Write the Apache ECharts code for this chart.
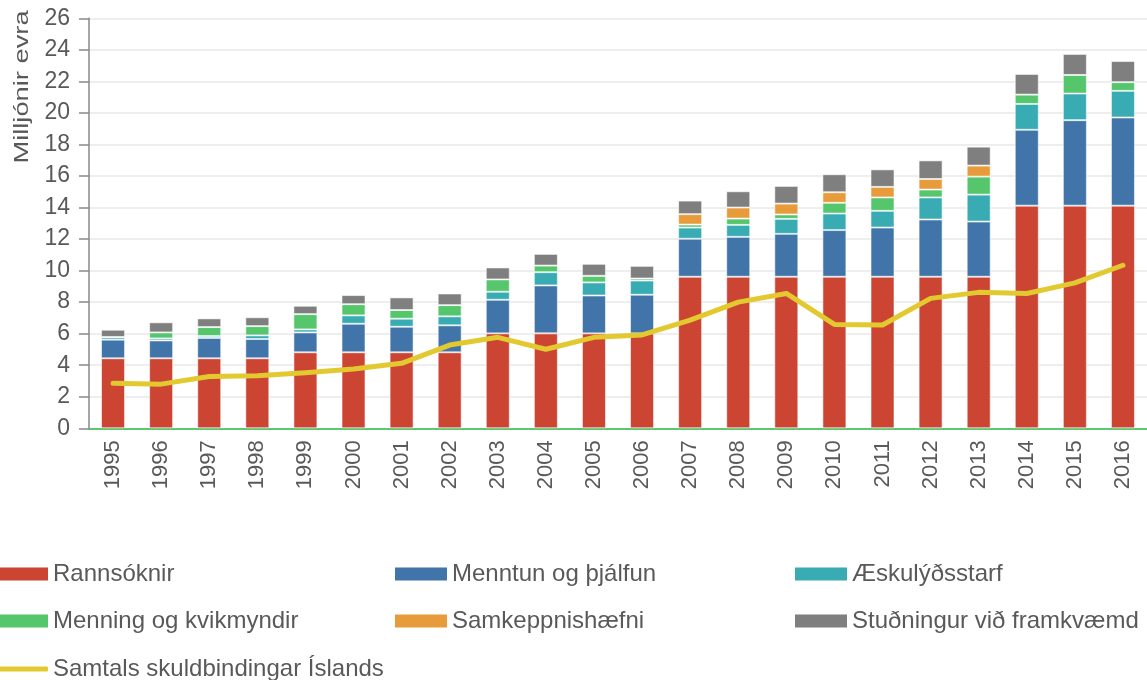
<!DOCTYPE html>
<html>
<head>
<meta charset="utf-8">
<script src="https://cdn.jsdelivr.net/npm/echarts@6/dist/echarts.min.js"></script>
<style>
html,body{margin:0;padding:0;background:#fff;}
#chart{width:1147px;height:680px;}
</style>
</head>
<body>
<div id="chart"></div>
<script>
const years = ['1995','1996','1997','1998','1999','2000','2001','2002','2003','2004','2005','2006','2007','2008','2009','2010','2011','2012','2013','2014','2015','2016'];
const yTicks = [0,2,4,6,8,10,12,14,16,18,20,22,24,26];

const rannsoknir = [4.44,4.44,4.44,4.44,4.82,4.82,4.82,4.82,6.02,6.02,6.02,6.02,9.61,9.61,9.61,9.61,9.61,9.61,9.61,14.12,14.12,14.12];
const menntun = [1.18,1.13,1.29,1.22,1.26,1.81,1.62,1.71,2.13,3.04,2.40,2.45,2.41,2.53,2.72,2.96,3.12,3.63,3.50,4.81,5.42,5.59];
const eskulyds = [0.15,0.13,0.12,0.23,0.19,0.53,0.51,0.57,0.51,0.84,0.83,0.90,0.71,0.76,0.95,1.05,1.06,1.40,1.71,1.64,1.69,1.69];
const menning = [0.02,0.38,0.57,0.59,0.97,0.71,0.55,0.71,0.78,0.42,0.42,0.13,0.19,0.40,0.28,0.68,0.85,0.50,1.14,0.59,1.18,0.55];
const samkeppni = [0,0,0,0,0,0,0,0,0,0,0,0,0.66,0.70,0.69,0.67,0.67,0.67,0.70,0,0,0];
const studningur = [0.46,0.64,0.55,0.56,0.53,0.58,0.80,0.74,0.76,0.74,0.76,0.80,0.86,1.03,1.12,1.14,1.11,1.18,1.20,1.31,1.33,1.34];
const samtals = [2.86,2.80,3.28,3.34,3.53,3.76,4.12,5.28,5.77,5.01,5.77,5.92,6.86,8.00,8.55,6.59,6.55,8.24,8.62,8.55,9.22,10.34];

const names = ['Rannsóknir','Menntun og þjálfun','Æskulýðsstarf','Menning og kvikmyndir','Samkeppnishæfni','Stuðningur við framkvæmd','Samtals skuldbindingar Íslands'];
const colors = ['#CC4533','#4174A8','#39ACB3','#55C66B','#E89B3B','#7F7F7F','#E2C92F'];
const barData = [rannsoknir, menntun, eskulyds, menning, samkeppni, studningur];

const FONT = 'Liberation Sans, Arial, sans-serif';
const chart = echarts.init(document.getElementById('chart'), null, {renderer:'canvas'});

const series = barData.map((d,i)=>({
  name: names[i],
  type: 'bar',
  stack: 'total',
  data: d,
  barWidth: 24,
  itemStyle: {color: colors[i], borderColor: 'rgba(255,255,255,0.55)', borderWidth: 1},
  emphasis: {disabled: true}
}));
series.push({
  name: names[6],
  type: 'line',
  data: samtals,
  symbol: 'none',
  showSymbol: false,
  lineStyle: {color: colors[6], width: 5, cap: 'round', join: 'round'},
  itemStyle: {color: colors[6]},
  z: 10
});

const legendPos = [
  {left: -4, top: 562}, {left: 395, top: 562}, {left: 795, top: 562},
  {left: -4, top: 609}, {left: 395, top: 609}, {left: 795, top: 609},
  {left: -4, top: 657}
];
const legends = names.map((n,i)=>({
  data: [n],
  left: legendPos[i].left,
  top: legendPos[i].top,
  orient: 'horizontal',
  itemWidth: 52,
  itemHeight: i < 6 ? 13 : 5,
  itemGap: 5,
  padding: 0,
  selectedMode: false,
  icon: i < 6 ? 'rect' : 'roundRect',
  itemStyle: {color: colors[i], borderWidth: 0},
  lineStyle: {width: 0},
  textStyle: {fontSize: 24, color: '#595959', fontFamily: FONT, lineHeight: 24}
}));

chart.setOption({
  animation: false,
  backgroundColor: '#fff',
  color: colors,
  textStyle: {fontFamily: FONT},
  grid: {left: 89, right: -6, top: 18.3, bottom: 251.7, containLabel: false},
  legend: legends,
  xAxis: {
    type: 'category',
    data: years,
    axisLine: {show: true, lineStyle: {color: '#5DC66F', width: 2}},
    axisTick: {show: false},
    axisLabel: {rotate: 90, fontSize: 22, color: '#595959', margin: 12, fontFamily: FONT},
    splitLine: {show: false}
  },
  yAxis: {
    type: 'value',
    min: yTicks[0],
    max: yTicks[yTicks.length-1],
    interval: yTicks[1]-yTicks[0],
    axisLine: {show: true, lineStyle: {color: '#898989', width: 1.5}},
    axisTick: {show: true, length: 10, lineStyle: {color: '#898989', width: 1.5}},
    axisLabel: {fontSize: 23, color: '#595959', margin: 19, fontFamily: FONT},
    splitLine: {show: true, lineStyle: {color: '#EEEEEE', width: 2}}
  },
  graphic: [{
    type: 'text',
    x: 22, y: 87,
    rotation: Math.PI/2,
    scaleX: 1.3,
    style: {text: 'Milljónir evra', fontSize: 21, fontFamily: FONT, fill: '#595959', align: 'center', verticalAlign: 'middle', textAlign: 'center', textVerticalAlign: 'middle'}
  }],
  series: series
});
</script>
</body>
</html>
